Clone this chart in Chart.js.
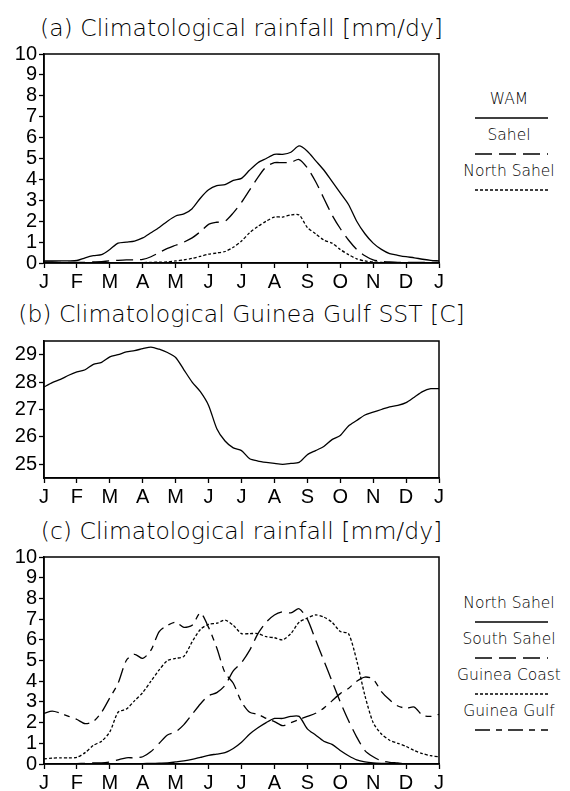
<!DOCTYPE html>
<html>
<head>
<meta charset="utf-8">
<script src="https://cdn.jsdelivr.net/npm/chart.js@4"></script>
<style>
  html, body { margin: 0; padding: 0; background: #fff; }
  body { width: 570px; height: 791px; position: relative; overflow: hidden; }
  canvas { position: absolute; left: 0; }
  .title {
    position: absolute; left: 241.5px; transform: translateX(-50%);
    white-space: nowrap; font-family: "DejaVu Sans", sans-serif; font-weight: 200;
    font-size: 23.5px; line-height: 1; color: #000;
  }
  .key {
    position: absolute; left: 509px; transform: translate(-50%, -50%);
    white-space: nowrap; font-family: "DejaVu Sans", sans-serif; font-weight: 200;
    font-size: 15.5px; line-height: 1; color: #000;
  }
  .swatch { position: absolute; left: 475px; width: 73px; height: 4px; }
</style>
</head>
<body>
<div class="title" style="top:17px">(a) Climatological rainfall [mm/dy]</div>
<canvas id="chartA" width="450" height="250" style="top:40px"></canvas>

<div class="title" style="top:303px">(b) Climatological Guinea Gulf SST [C]</div>
<canvas id="chartB" width="450" height="178" style="top:327px"></canvas>

<div class="title" style="top:520px">(c) Climatological rainfall [mm/dy]</div>
<canvas id="chartC" width="450" height="248" style="top:543px"></canvas>

<div id="keys"></div>

<script>
// month letters under the x axis (weekly steps, 4 per month)
const months = ['J', 'F', 'M', 'A', 'M', 'J', 'J', 'A', 'S', 'O', 'N', 'D', 'J'];
const rainTicks = [0, 1, 2, 3, 4, 5, 6, 7, 8, 9, 10];
const sstTicks = [25, 26, 27, 28, 29];

// (a) West African monsoon rainfall [mm/dy]
const wam = [0.1, 0.1, 0.1, 0.1, 0.12, 0.25, 0.35, 0.4, 0.65, 0.95, 1.0, 1.05, 1.2,
  1.45, 1.7, 2.0, 2.25, 2.35, 2.6, 3.1, 3.5, 3.7, 3.75, 3.95, 4.05,
  4.45, 4.8, 5.0, 5.2, 5.2, 5.3, 5.6, 5.35, 4.9, 4.45, 3.9, 3.35,
  2.8, 2.0, 1.4, 0.95, 0.65, 0.45, 0.37, 0.3, 0.25, 0.18, 0.13, 0.1];
const sahel = [0.05, 0.05, 0.03, 0.03, 0.03, 0.03, 0.05, 0.07, 0.1, 0.13, 0.15, 0.15, 0.17,
  0.3, 0.5, 0.7, 0.85, 1.0, 1.2, 1.5, 1.85, 1.95, 2.0, 2.4, 2.9,
  3.5, 4.1, 4.6, 4.8, 4.8, 4.82, 4.95, 4.55, 3.9, 3.1, 2.3, 1.65,
  1.1, 0.65, 0.35, 0.15, 0.08, 0.05, 0.03, 0.03, 0.03, 0.03, 0.03, 0.03];
const northSahel = [0.02, 0.02, 0.02, 0.02, 0.02, 0.02, 0.02, 0.02, 0.02, 0.02, 0.02, 0.02, 0.02,
  0.03, 0.04, 0.05, 0.1, 0.15, 0.22, 0.32, 0.42, 0.48, 0.55, 0.75, 1.05,
  1.45, 1.75, 2.0, 2.2, 2.2, 2.3, 2.3, 1.7, 1.4, 1.1, 0.95, 0.65,
  0.4, 0.2, 0.1, 0.05, 0.03, 0.02, 0.02, 0.02, 0.02, 0.02, 0.02, 0.02];

// (b) Guinea Gulf SST [C]
const sst = [27.82, 27.98, 28.1, 28.25, 28.37, 28.45, 28.65, 28.72, 28.92, 29.0, 29.1, 29.15, 29.22,
  29.28, 29.2, 29.08, 28.9, 28.45, 28.0, 27.65, 27.15, 26.3, 25.85, 25.6, 25.5,
  25.2, 25.12, 25.07, 25.03, 25.0, 25.03, 25.07, 25.35, 25.5, 25.65, 25.9, 26.05,
  26.4, 26.6, 26.8, 26.9, 27.0, 27.1, 27.15, 27.25, 27.45, 27.65, 27.76, 27.76];

// (c) regional rainfall [mm/dy]
const southSahel = [0.0, 0.0, 0.0, 0.0, 0.02, 0.03, 0.05, 0.05, 0.1, 0.2, 0.3, 0.3, 0.35,
  0.6, 1.0, 1.4, 1.55, 1.9, 2.4, 2.9, 3.3, 3.45, 3.8, 4.5, 4.9,
  5.5, 6.3, 6.85, 7.2, 7.35, 7.3, 7.5, 7.0, 6.0, 5.0, 4.0, 3.0,
  2.1, 1.3, 0.65, 0.35, 0.15, 0.08, 0.05, 0.0, 0.0, 0.0, 0.0, 0.0];
const guineaCoast = [0.25, 0.28, 0.3, 0.3, 0.32, 0.55, 0.9, 1.1, 1.55, 2.5, 2.65, 3.05, 3.45,
  4.0, 4.55, 5.0, 5.1, 5.2, 5.9, 6.5, 6.75, 6.8, 6.95, 6.7, 6.3,
  6.3, 6.3, 6.15, 6.1, 6.0, 6.3, 6.85, 7.05, 7.2, 7.1, 6.85, 6.4,
  6.3, 5.0, 3.3, 2.0, 1.45, 1.15, 1.0, 0.85, 0.65, 0.5, 0.4, 0.35];
const guineaGulf = [2.45, 2.55, 2.45, 2.3, 2.15, 1.95, 2.05, 2.5, 3.2, 3.9, 5.0, 5.3, 5.1,
  5.5, 6.4, 6.7, 6.85, 6.6, 6.7, 7.3, 6.6, 5.6, 4.4, 3.9, 3.0,
  2.5, 2.4, 2.2, 2.05, 1.85, 2.0, 2.15, 2.3, 2.45, 2.7, 3.05, 3.4,
  3.65, 4.0, 4.2, 4.1, 3.5, 3.1, 2.8, 2.7, 2.75, 2.35, 2.3, 2.4];

const SOLID = [], LONG = [17, 7], DOTS = [3, 2], LONG_SHORT = [15, 6, 6, 6];

function series(values, dash) {
  return {
    data: values.map((v, i) => ({ x: i, y: v })),
    borderColor: '#000', borderWidth: 1.3, borderDash: dash,
    pointRadius: 0, tension: 0.25, fill: false
  };
}

// closes the plot box on the top and right
const frame = {
  id: 'frame',
  afterDraw(chart) {
    const a = chart.chartArea, ctx = chart.ctx;
    ctx.save();
    ctx.strokeStyle = '#000';
    ctx.lineWidth = 1.5;
    ctx.strokeRect(a.left, a.top, a.right - a.left, a.bottom - a.top);
    ctx.restore();
  }
};

function makeChart(id, datasets, yMin, yMax, yTicks) {
  return new Chart(document.getElementById(id), {
    type: 'line',
    data: { datasets },
    plugins: [frame],
    options: {
      responsive: false,
      animation: false,
      layout: { padding: { top: 8, right: 11, bottom: 0, left: 0 } },
      plugins: { legend: { display: false }, tooltip: { enabled: false } },
      scales: {
        x: {
          type: 'linear', min: 0, max: 48,
          afterFit(s) { s.height = 27; },
          grid: { drawOnChartArea: false, drawTicks: true, tickLength: 5, tickColor: '#000', tickWidth: 1.3 },
          border: { display: true, color: '#000', width: 1.5 },
          ticks: {
            stepSize: 4, padding: 2, color: '#000', maxRotation: 0, autoSkip: false,
            font: { family: '"Liberation Sans Narrow", "Liberation Sans", sans-serif', size: 20 },
            callback: v => months[v / 4]
          }
        },
        y: {
          min: yMin, max: yMax,
          afterFit(s) { s.width = 44; },
          afterBuildTicks(s) { s.ticks = yTicks.map(v => ({ value: v })); },
          grid: { drawOnChartArea: false, drawTicks: true, tickLength: 5, tickColor: '#000', tickWidth: 1.3 },
          border: { display: true, color: '#000', width: 1.5 },
          ticks: {
            padding: 2, color: '#000', autoSkip: false,
            font: { family: '"Liberation Sans", Arial, sans-serif', size: 20 }
          }
        }
      }
    }
  });
}

makeChart('chartA', [
  series(wam, SOLID), series(sahel, LONG), series(northSahel, DOTS)
], 0, 10, rainTicks);

makeChart('chartB', [series(sst, SOLID)], 24.5, 29.5, sstTicks);

makeChart('chartC', [
  series(northSahel, SOLID), series(southSahel, LONG),
  series(guineaCoast, DOTS), series(guineaGulf, LONG_SHORT)
], 0, 10, rainTicks);

// legend blocks: name above a line sample
function legendBlock(entries, firstY) {
  const box = document.getElementById('keys');
  entries.forEach((e, i) => {
    const y = firstY + i * 36;
    const t = document.createElement('div');
    t.className = 'key';
    t.style.top = y + 'px';
    t.textContent = e.name;
    box.appendChild(t);
    const svg = document.createElementNS('http://www.w3.org/2000/svg', 'svg');
    svg.setAttribute('class', 'swatch');
    svg.style.top = (y + 16) + 'px';
    const ln = document.createElementNS('http://www.w3.org/2000/svg', 'line');
    ln.setAttribute('x1', 0); ln.setAttribute('x2', 73);
    ln.setAttribute('y1', 2); ln.setAttribute('y2', 2);
    ln.setAttribute('stroke', '#000'); ln.setAttribute('stroke-width', 1.3);
    if (e.dash.length) ln.setAttribute('stroke-dasharray', e.dash.join(' '));
    svg.appendChild(ln);
    box.appendChild(svg);
  });
}

legendBlock([
  { name: 'WAM', dash: SOLID },
  { name: 'Sahel', dash: LONG },
  { name: 'North Sahel', dash: DOTS }
], 100);

legendBlock([
  { name: 'North Sahel', dash: SOLID },
  { name: 'South Sahel', dash: LONG },
  { name: 'Guinea Coast', dash: DOTS },
  { name: 'Guinea Gulf', dash: LONG_SHORT }
], 604);
</script>
</body>
</html>
